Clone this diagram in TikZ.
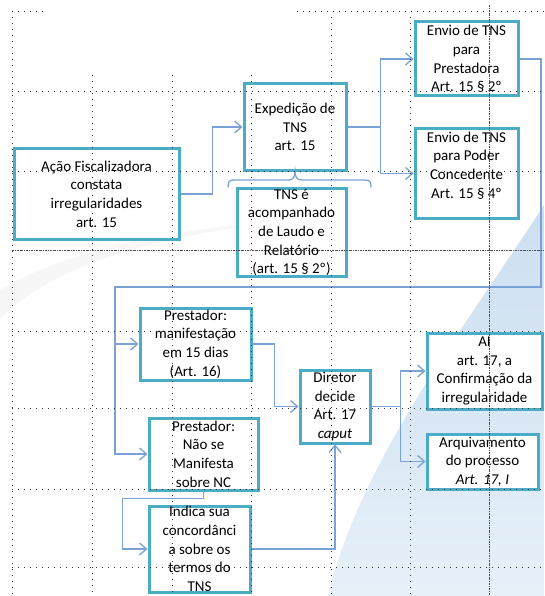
\documentclass[tikz,border=0pt]{standalone}
\usepackage{fontspec}
\setmainfont{Carlito}
\usetikzlibrary{arrows.meta,calc}
\definecolor{boxteal}{HTML}{4BACC6}
\definecolor{connblue}{HTML}{7BA2D6}
\definecolor{bgblueA}{HTML}{CCDFF1}
\definecolor{bgblueB}{HTML}{E6F0F9}
\begin{document}
\begin{tikzpicture}[x=1pt,y=-1pt,
  box/.style={draw=boxteal, line width=3pt, fill=white, inner sep=0pt, align=center, font=\fontsize{15}{18.7}\selectfont},
  txt/.style={inner sep=0pt, align=center, font=\fontsize{15}{18.7}\selectfont},
  conn/.style={draw=connblue, line width=1.3pt, -{Straight Barb[length=7pt,width=12pt]}},
  bracestyle/.style={draw=connblue, line width=1.3pt},
  griddot/.style={black!80, line width=0.8pt, dash pattern=on 0.8pt off 5.2pt},
  griddense/.style={black!70, line width=0.7pt, dash pattern=on 2pt off 1pt on 0.7pt off 1pt}]
\useasboundingbox (0,0) rectangle (544,596);
\fill[white] (0,0) rectangle (544,596);
% background shapes
\shade[top color=bgblueA, bottom color=bgblueB] (544,205) .. controls (470,320) and (360,460) .. (328,596) -- (544,596) -- cycle;
\fill[black!3] (0,290) .. controls (60,255) and (150,232) .. (270,222) .. controls (150,240) and (60,262) .. (0,318) -- cycle;
% boxes
\node[box, minimum width=165, minimum height=90] (acao) at (96.5,194) {Ação Fiscalizadora\\constata\\irregularidades\\art. 15};
\node[box, minimum width=102, minimum height=86] (exp) at (295,127) {Expedição de\\TNS\\art. 15};
\node[box, minimum width=109, minimum height=87] (tnse) at (291.5,232.5) {TNS é\\acompanhado\\de Laudo e\\Relatório\\(art. 15 § 2º)};
\node[box, minimum width=103, minimum height=74] (env1) at (466.5,59) {Envio de TNS\\para\\Prestadora\\Art. 15 § 2º};
\node[box, minimum width=103, minimum height=89] (env2) at (466.5,173.5) {};
\node[txt] (env2t) at ([yshift=8pt]env2.center) {Envio de TNS\\para Poder\\Concedente\\Art. 15 § 4º};
\node[box, minimum width=111, minimum height=72] (manif) at (195.5,344) {Prestador:\\manifestação\\em 15 dias\\(Art. 16)};
\node[box, minimum width=109, minimum height=72] (naose) at (203.5,454) {Prestador:\\Não se\\Manifesta\\sobre NC};
\node[box, minimum width=101, minimum height=86] (ind) at (199.5,549) {Indica sua\\concordânci\\a sobre os\\termos do\\TNS};
\node[box, minimum width=70, minimum height=73] (dir) at (335,406.5) {Diretor\\decide\\Art. 17\\\textit{caput}};
\node[box, minimum width=115, minimum height=76] (ai) at (484.5,371) {AI\\art. 17, a\\Confirmação da\\irregularidade};
\node[box, minimum width=111, minimum height=55] (arq) at (482.5,461.5) {Arquivamento\\do processo\\\textit{Art. 17, I}};
% connectors
\draw[conn] (acao.east) -- ++(32,0) |- (exp.west);
\draw[conn] (exp.east) -- ++(33,0) coordinate (j1) |- (env1.west);
\draw[conn] (j1) |- (env2.west);
\coordinate (r1) at (541,287);
\coordinate (l1) at (115,287);
\draw[conn] (env1.east) -| (r1) -- (l1) |- (manif.west);
\draw[conn] (l1) |- (naose.west);
\draw[conn] (manif.east) -- ++(22,0) |- (dir.west);
\draw[conn] (naose.south) -- ++(0,7) -| ([xshift=-25pt]ind.west) -- (ind.west);
\draw[conn] (ind.east) -| (dir.south);
\draw[conn] (dir.east) -- ++(29,0) coordinate (j2) |- (ai.west);
\draw[conn] (j2) |- (arq.west);
% brace under Expedicao
\draw[bracestyle, shift={(exp.south)}]
  (-67,16) .. controls (-67,10) and (-66,8.5) .. (-61,8.5) -- (-6,8.5)
  .. controls (-2,8.5) and (0,5) .. (0,0)
  .. controls (0,5) and (2,8.5) .. (6,8.5) -- (70,8.5)
  .. controls (75,8.5) and (76,10) .. (76,16);
% grid
\draw[griddot] (12,11) -- (12,596);
\foreach \x in {92,172,251} \draw[griddot] (\x,75) -- (\x,596);
\foreach \x in {331,410} \draw[griddot] (\x,17) -- (\x,596);
\draw[griddense] (489,5) -- (489,596);
\draw[griddot] (12,11) -- (45,11);
\draw[griddot] (297,11) -- (544,11);
\foreach \y in {91,171,331,408,489,567} \draw[griddot] (12,\y) -- (544,\y);
\draw[griddense] (12,250) -- (544,250);
\end{tikzpicture}
\end{document}
